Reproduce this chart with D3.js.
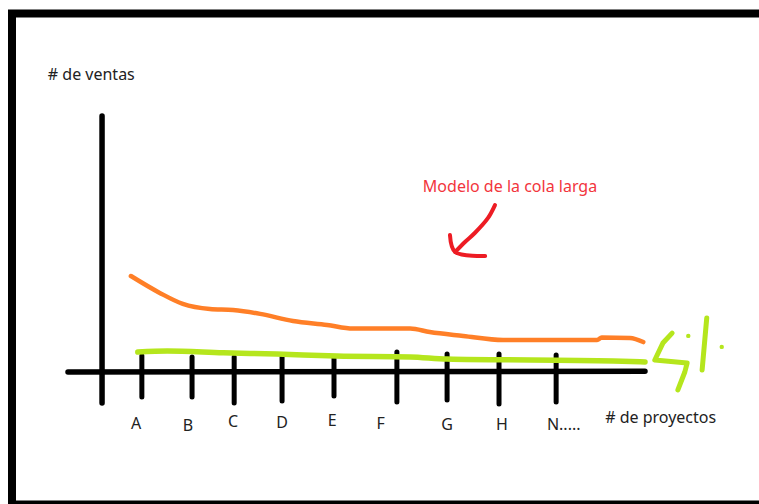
<!DOCTYPE html>
<html>
<head>
<meta charset="utf-8">
<script src="https://cdn.jsdelivr.net/npm/d3@7"></script>
<style>
  html, body { margin: 0; padding: 0; background: #fff; overflow: hidden; }
  text { font-family: "Noto Sans", "Open Sans", sans-serif; }
</style>
</head>
<body>
<script>
// hand drawn "long tail" sketch, units are 0..100 on both axes
const categories = ["A", "B", "C", "D", "E", "F", "G", "H", "N....."];
const tickX = [12.8, 21.5, 28.8, 37.1, 46.1, 57.0, 65.7, 74.7, 84.6];
const tickTop = [6.3, 5.9, 5.9, 5.9, 5.5, 7.8, 7.0, 7.0, 6.6];
const tickBottom = [-9.8, -9.8, -12.1, -11.3, -9.4, -11.7, -10.9, -12.5, -11.7];
const labelX = [11.8, 20.8, 28.6, 37.1, 45.8, 54.2, 65.7, 75.2, 83.0];
const labelY = [-22.1, -23.2, -21.3, -21.7, -20.9, -22.1, -22.5, -22.5, -22.5];

// orange: modelo de la cola larga
const colaX = [10.9, 15.9, 19.9, 24.6, 28.6, 33.3, 39.0, 44.9, 49.4, 59.3, 62.7, 68.5, 75.4, 91.7, 92.5, 97.4, 99.7];
const colaY = [37.5, 30.9, 26.6, 24.6, 24.2, 22.7, 19.9, 18.4, 17.0, 17.0, 15.6, 14.1, 12.5, 12.5, 13.5, 13.3, 11.7];

// green: S/.
const solesX = [12.1, 17.2, 26.9, 36.2, 46.6, 59.3, 65.7, 94.5, 100];
const solesY = [7.8, 8.2, 7.5, 7.0, 6.25, 5.9, 5.1, 4.3, 3.9];

const width = 759, height = 504;
const x = d3.scaleLinear().domain([0, 100]).range([68, 645]);
const y = d3.scaleLinear().domain([0, 100]).range([372, 116]);

const svg = d3.select("body").append("svg")
  .attr("width", width)
  .attr("height", height);

svg.append("rect").attr("width", width).attr("height", height).attr("fill", "#fff");

// frame
svg.append("rect")
  .attr("x", 12).attr("y", 13.5)
  .attr("width", 800).attr("height", 491)
  .attr("fill", "none")
  .attr("stroke", "#000")
  .attr("stroke-width", 8);

const line = d3.line().x(d => x(d[0])).y(d => y(d[1])).curve(d3.curveMonotoneX);
const free = d3.line().x(d => x(d[0])).y(d => y(d[1])).curve(d3.curveCatmullRom);

// axes
svg.append("line")
  .attr("x1", x(5.9)).attr("x2", x(5.9))
  .attr("y1", y(100)).attr("y2", y(-12.1))
  .attr("stroke", "#000").attr("stroke-width", 5.5).attr("stroke-linecap", "round");

svg.append("line")
  .attr("x1", x(0)).attr("x2", x(100))
  .attr("y1", y(0)).attr("y2", y(0.3))
  .attr("stroke", "#000").attr("stroke-width", 5.5).attr("stroke-linecap", "round");

// ticks
svg.append("g").selectAll("line")
  .data(categories)
  .join("line")
  .attr("x1", (d, i) => x(tickX[i])).attr("x2", (d, i) => x(tickX[i]))
  .attr("y1", (d, i) => y(tickTop[i])).attr("y2", (d, i) => y(tickBottom[i]))
  .attr("stroke", "#000").attr("stroke-width", 5).attr("stroke-linecap", "round");

// lines
svg.append("path")
  .attr("d", line(colaX.map((v, i) => [v, colaY[i]])))
  .attr("fill", "none").attr("stroke", "#ff7f27").attr("stroke-width", 4.5)
  .attr("stroke-linecap", "round");

svg.append("path")
  .attr("d", line(solesX.map((v, i) => [v, solesY[i]])))
  .attr("fill", "none").attr("stroke", "#b5e61d").attr("stroke-width", 5.5)
  .attr("stroke-linecap", "round");

// tick labels
svg.append("g").selectAll("text")
  .data(categories)
  .join("text")
  .attr("x", (d, i) => x(labelX[i]))
  .attr("y", (d, i) => y(labelY[i]))
  .attr("text-anchor", (d, i) => i === categories.length - 1 ? "start" : "middle")
  .attr("font-size", 16)
  .attr("fill", "#222")
  .text(d => d);

svg.append("text")
  .attr("x", x(-3.5)).attr("y", y(114))
  .attr("font-size", 16).attr("fill", "#222")
  .text("# de ventas");

svg.append("text")
  .attr("x", x(93.1)).attr("y", y(-19.9))
  .attr("font-size", 16).attr("fill", "#222")
  .text("# de proyectos");

svg.append("text")
  .attr("x", x(61.5)).attr("y", y(70.3))
  .attr("font-size", 16).attr("fill", "#f2353c")
  .text("Modelo de la cola larga");

// red arrow
const arrowShaft = [[74.0, 65.2], [72.8, 60.2], [70.5, 54.3], [68.8, 50.8], [67.1, 46.9]];
const arrowHead = [[66.2, 53.5], [67.1, 46.9], [72.3, 45.3]];
[arrowShaft, arrowHead].forEach(pts => {
  svg.append("path")
    .attr("d", free(pts))
    .attr("fill", "none").attr("stroke", "#ed1c24").attr("stroke-width", 4)
    .attr("stroke-linecap", "round").attr("stroke-linejoin", "round");
});

// scribbled "S/."
const solS = [[104.7, 15.2], [103.1, 11.3], [101.7, 4.7], [107.3, 3.5], [106.9, 0], [105.7, -7.0]];
const solSlash = [[110.7, 21.1], [109.9, 0.8]];
const solDots = [[107.5, 14.1], [113.3, 9.8]];
[solS, solSlash].forEach(pts => {
  svg.append("path")
    .attr("d", d3.line().x(d => x(d[0])).y(d => y(d[1]))(pts))
    .attr("fill", "none").attr("stroke", "#b5e61d").attr("stroke-width", 5)
    .attr("stroke-linecap", "round").attr("stroke-linejoin", "round");
});
svg.append("g").selectAll("circle")
  .data(solDots)
  .join("circle")
  .attr("cx", d => x(d[0])).attr("cy", d => y(d[1]))
  .attr("r", 2.2).attr("fill", "#b5e61d");
</script>
</body>
</html>
